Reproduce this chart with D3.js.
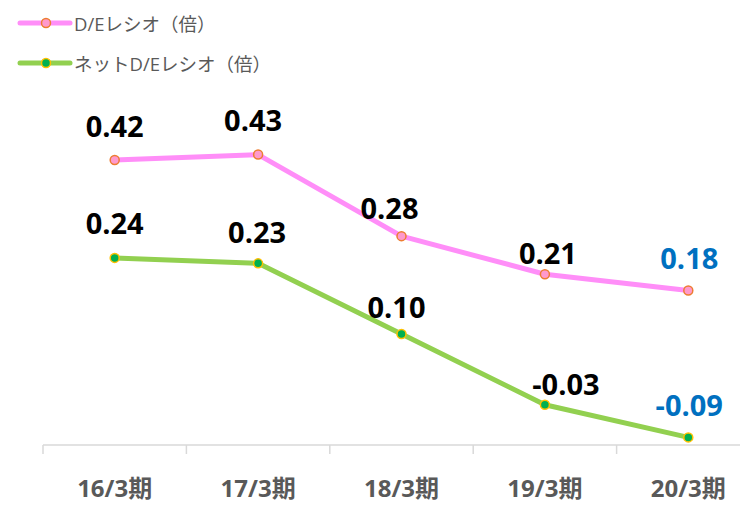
<!DOCTYPE html>
<html>
<head>
<meta charset="utf-8">
<script src="https://cdn.jsdelivr.net/npm/d3@7"></script>
<style>
  body { margin: 0; background: #fff; }
  svg text { font-family: "Open Sans", "Noto Sans CJK JP", sans-serif; }
</style>
</head>
<body>
<svg id="chart"></svg>
<script>
const periods = ["16/3期", "17/3期", "18/3期", "19/3期", "20/3期"];
const deRatio = [0.42, 0.43, 0.28, 0.21, 0.18];
const netDeRatio = [0.24, 0.23, 0.10, -0.03, -0.09];
const seriesNames = ["D/Eレシオ（倍）", "ネットD/Eレシオ（倍）"];

// label nudges (px) so they sit like the original
const labelShift = [
    [[0, -35], [-5, -35], [-12, -29], [3, -22], [1, -33]],
    [[0, -35], [-1, -32], [-5, -28], [21, -21], [1, -33]]
];

const width = 740, height = 505;
const svg = d3.select("#chart").attr("width", width).attr("height", height);

const x = d3.scaleBand().domain(periods).range([43, 760]);
const y = d3.scaleLinear().domain([-0.104, 0.5]).range([445, 116.5]);

const styles = [
    { line: "#FF8EF8", fill: "#FF99CC", stroke: "#ED7D31" },
    { line: "#92D050", fill: "#00B050", stroke: "#FFC000" }
];

// axis
const axisY = y.range()[0];
svg.append("line")
    .attr("x1", 43).attr("x2", width)
    .attr("y1", axisY).attr("y2", axisY)
    .attr("stroke", "#D9D9D9").attr("stroke-width", 1.5);
svg.selectAll(".tick")
    .data(periods)
    .join("line")
    .attr("class", "tick")
    .attr("x1", d => x(d)).attr("x2", d => x(d))
    .attr("y1", axisY).attr("y2", axisY + 9)
    .attr("stroke", "#D9D9D9").attr("stroke-width", 1.5);
svg.selectAll(".cat")
    .data(periods)
    .join("text")
    .attr("class", "cat")
    .attr("x", d => x(d) + x.bandwidth() / 2)
    .attr("y", 497)
    .attr("text-anchor", "middle")
    .attr("font-size", 24)
    .attr("font-weight", "bold")
    .attr("fill", "#595959")
    .text(d => d);

const line = d3.line()
    .x((d, i) => x(periods[i]) + x.bandwidth() / 2)
    .y(d => y(d));

[deRatio, netDeRatio].forEach((vals, s) => {
    const st = styles[s];
    svg.append("path")
        .datum(vals)
        .attr("d", line)
        .attr("fill", "none")
        .attr("stroke", st.line)
        .attr("stroke-width", 5)
        .attr("stroke-linejoin", "round");
    svg.selectAll(".pt" + s)
        .data(vals)
        .join("circle")
        .attr("class", "pt" + s)
        .attr("cx", (d, i) => x(periods[i]) + x.bandwidth() / 2)
        .attr("cy", d => y(d))
        .attr("r", 4.5)
        .attr("fill", st.fill)
        .attr("stroke", st.stroke)
        .attr("stroke-width", 1.5);
    svg.selectAll(".lbl" + s)
        .data(vals)
        .join("text")
        .attr("class", "lbl" + s)
        .attr("x", (d, i) => x(periods[i]) + x.bandwidth() / 2 + labelShift[s][i][0])
        .attr("y", (d, i) => y(d) + labelShift[s][i][1])
        .attr("text-anchor", "middle")
        .attr("dominant-baseline", "central")
        .attr("font-size", 29)
        .attr("font-weight", "bold")
        .attr("fill", (d, i) => i === vals.length - 1 ? "#0070C0" : "#000")
        .text(d => d.toFixed(2));
});

// legend
seriesNames.forEach((name, s) => {
    const st = styles[s];
    const ly = 23 + s * 40;
    const g = svg.append("g");
    g.append("line")
        .attr("x1", 20).attr("x2", 70)
        .attr("y1", ly).attr("y2", ly)
        .attr("stroke", st.line).attr("stroke-width", 5)
        .attr("stroke-linecap", "round");
    g.append("circle")
        .attr("cx", 46).attr("cy", ly).attr("r", 4.5)
        .attr("fill", st.fill).attr("stroke", st.stroke).attr("stroke-width", 1.5);
    g.append("text")
        .attr("x", 74).attr("y", ly)
        .attr("dominant-baseline", "central")
        .attr("font-size", 18.5)
        .attr("fill", "#595959")
        .text(name);
});
</script>
</body>
</html>
